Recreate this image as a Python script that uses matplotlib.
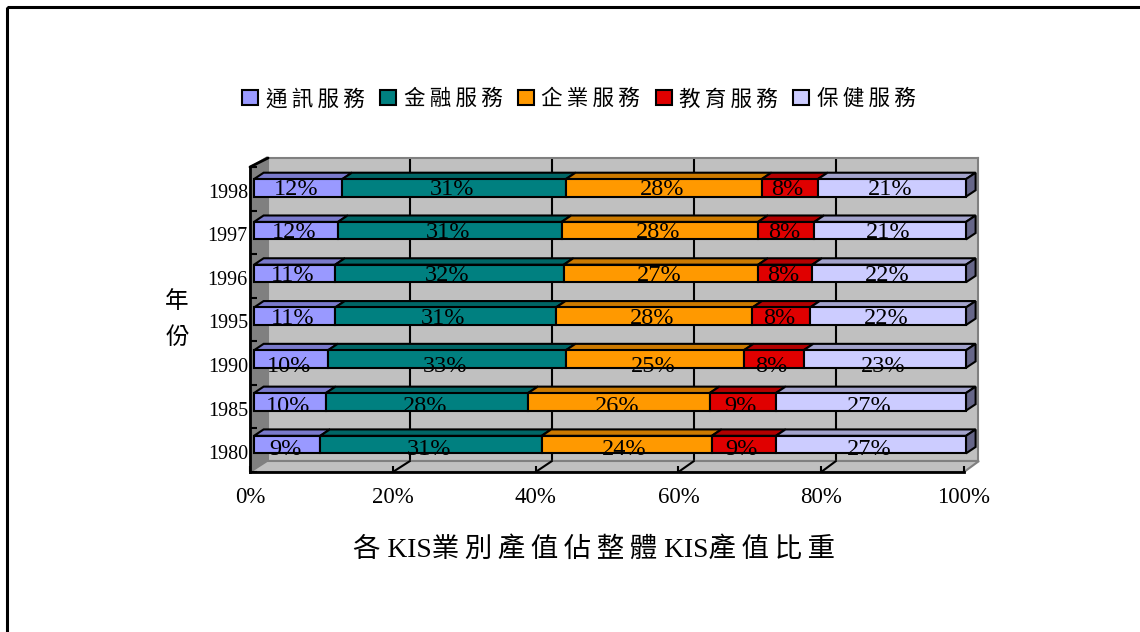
import matplotlib
matplotlib.use("Agg")
from matplotlib import pyplot as plt
from matplotlib.patches import ConnectionPatch, Patch, Polygon, Rectangle
from matplotlib.transforms import Affine2D
import numpy as np

years = ["1980", "1985", "1990", "1995", "1996", "1997", "1998"]
telecom = [9.3, 10.1, 10.4, 11.4, 11.4, 11.8, 12.4]
finance = [31.1, 28.4, 33.4, 31.0, 32.1, 31.4, 31.4]
business = [23.9, 25.5, 25.0, 27.6, 27.3, 27.6, 27.5]
education = [9.0, 9.3, 8.4, 8.1, 7.6, 7.9, 7.9]
health = [26.7, 26.7, 22.8, 21.9, 21.6, 21.3, 20.8]

sector_names = ["通訊服務", "金融服務", "企業服務", "教育服務", "保健服務"]
x_ticks = [0, 20, 40, 60, 80, 100]

front_colors = ["#9999ff", "#008080", "#ff9900", "#e00000", "#ccccff"]
top_colors = ["#7a7acc", "#006666", "#cc7a00", "#b30000", "#a3a3cc"]
side_color = "#666688"

WIDTH, HEIGHT = 1140, 632
BAR_H = 0.41
DEPTH_X = 1.35   # bar depth in percent units
DEPTH_Y = 0.15   # bar depth in category units
label_shift = [-5, -5, -7, -2, -2, -2, -2]  # vertical nudge per row, px

plt.rcParams["font.family"] = ["Liberation Serif", "Noto Sans CJK TC", "DejaVu Sans"]


def spaced(text):
    # thin space between CJK glyphs, the chart uses wide tracking
    return "\u2009".join(text)


def box(left, top, right, bottom):
    return [left / WIDTH, 1 - bottom / HEIGHT, (right - left) / WIDTH, (bottom - top) / HEIGHT]


fig = plt.figure(figsize=(WIDTH / 100, HEIGHT / 100), dpi=100, facecolor="white")
pixels = Affine2D().scale(1, -1).translate(0, HEIGHT)

fig.add_artist(Rectangle((7, 7), WIDTH + 40, HEIGHT + 40, transform=pixels, fill=False,
                         edgecolor="black", linewidth=2.2))

# back wall with gridlines
wall = fig.add_axes(box(268, 158, 978, 461), zorder=0)
wall.set_facecolor("#c0c0c0")
wall.set_xlim(0, 100)
wall.set_ylim(0, 1)
wall.set_xticks(x_ticks[1:-1])
wall.set_yticks([])
wall.tick_params(length=0, labelbottom=False)
wall.grid(axis="x", color="black", linewidth=1.5)
wall.set_axisbelow(True)
for spine in wall.spines.values():
    spine.set_color("#808080")
    spine.set_linewidth(1.5)

# side wall and floor
wall.add_patch(Polygon([(250, 167), (267, 157), (267, 461), (250, 472)], transform=pixels,
                       facecolor="#808080", edgecolor="#808080", clip_on=False, zorder=3))
wall.add_patch(Polygon([(250, 472), (267, 461), (979, 461), (964, 472)], transform=pixels,
                       facecolor="#c0c0c0", edgecolor="#808080", linewidth=1.5, clip_on=False, zorder=3))

# front plane carries the axis lines, ticks and labels
front = fig.add_axes(box(250, 167, 964, 472), zorder=1)
front.patch.set_visible(False)
front.set_xlim(0, 100)
front.set_ylim(-0.5, 6.5)
for name in ["top", "right"]:
    front.spines[name].set_visible(False)
for name in ["left", "bottom"]:
    front.spines[name].set_linewidth(2)
front.set_xticks(x_ticks)
front.set_xticklabels([f"{v}%" for v in x_ticks], fontsize=16.5)
front.set_yticks(range(len(years)))
front.set_yticklabels(years, fontsize=14.5)
front.set_yticks(np.arange(-0.5, 7), minor=True)
front.tick_params(axis="x", direction="in", length=4, width=1.5, pad=10.5)
front.tick_params(axis="y", which="major", length=0, pad=1.5)
front.tick_params(axis="y", which="minor", direction="in", length=5, width=1.5)
for label in front.get_yticklabels():
    label.set_transform(label.get_transform() + Affine2D().translate(0, -2))
for v in x_ticks[1:-1]:
    front.add_artist(ConnectionPatch((v, -0.5), (v, 0), coordsA=front.transData, coordsB=wall.transData,
                                     color="black", linewidth=1.5))
front.add_artist(ConnectionPatch((0, 6.5), (0, 1), coordsA=front.transData, coordsB=wall.transData,
                                 color="black", linewidth=2))

# stacked bars with a drawn depth
ax = fig.add_axes(box(254, 166.5, 966, 466), zorder=2)
ax.patch.set_visible(False)
ax.axis("off")
ax.set_xlim(0, 100)
ax.set_ylim(-0.5, 6.5)

series = np.array([telecom, finance, business, education, health])
starts = np.vstack([np.zeros(len(years)), np.cumsum(series, axis=0)[:-1]])
for row in range(len(years)):
    y0, y1 = row - BAR_H / 2, row + BAR_H / 2
    for i in range(len(series)):
        x0 = starts[i, row]
        x1 = x0 + series[i, row]
        ax.add_patch(Polygon([(x0, y1), (x1, y1), (x1 + DEPTH_X, y1 + DEPTH_Y), (x0 + DEPTH_X, y1 + DEPTH_Y)],
                             facecolor=top_colors[i], edgecolor="black", linewidth=1.5, zorder=3, clip_on=False))
    ax.add_patch(Polygon([(x1, y0), (x1 + DEPTH_X, y0 + DEPTH_Y), (x1 + DEPTH_X, y1 + DEPTH_Y), (x1, y1)],
                         facecolor=side_color, edgecolor="black", linewidth=1.5, zorder=3, clip_on=False))
    ax.barh(row, series[:, row], left=starts[:, row], height=BAR_H, color=front_colors,
            edgecolor="black", linewidth=1.5, zorder=4, clip_on=False)
    for i in range(len(series)):
        ax.annotate(f"{series[i, row]:.0f}%", (starts[i, row] + series[i, row] / 2, row),
                    xytext=(-1.5, label_shift[row] * 0.72), textcoords="offset points",
                    ha="center", va="center", fontsize=17.5, color="black", zorder=5)

handles = [Patch(facecolor=c, edgecolor="black", linewidth=1.5) for c in front_colors]
fig.legend(handles, [spaced(n) for n in sector_names], ncol=5, frameon=False, fontsize=15.5,
           loc="center", bbox_to_anchor=(579 / WIDTH, 1 - 100 / HEIGHT), handlelength=0.74, handleheight=0.7,
           handletextpad=0.35, columnspacing=0.72, borderpad=0, borderaxespad=0)

fig.text(177 / WIDTH, 1 - 320 / HEIGHT, "年\n份", ha="center", va="center", fontsize=17, linespacing=1.85)
fig.text(594 / WIDTH, 1 - 550 / HEIGHT, spaced("各") + " KIS" + spaced("業別產值佔整體") + " KIS" + spaced("產值比重"),
         ha="center", va="center", fontsize=19.8)

fig.savefig("out.png", dpi=100)
